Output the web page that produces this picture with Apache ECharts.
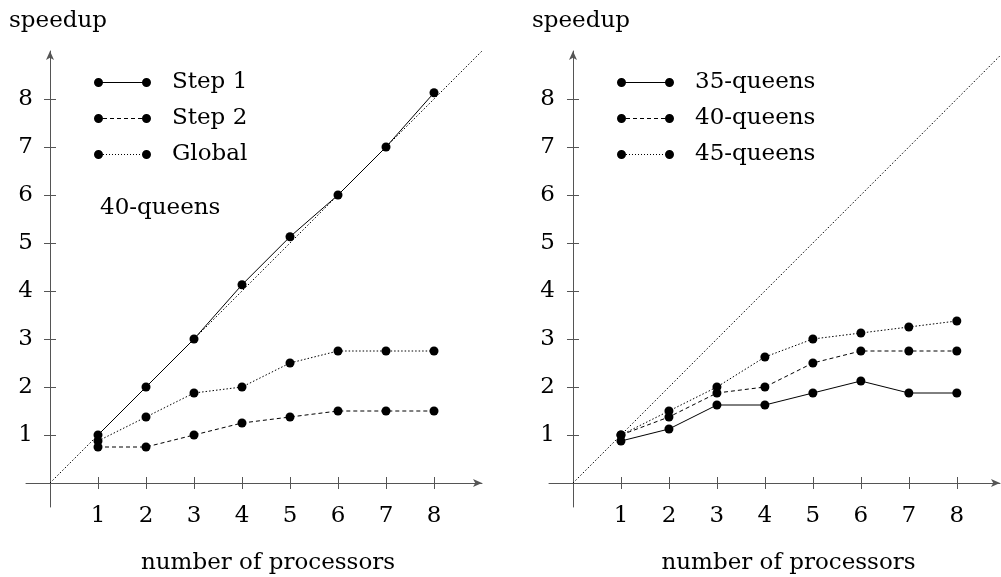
<!DOCTYPE html>
<html>
<head>
<meta charset="utf-8">
<script src="https://cdn.jsdelivr.net/npm/echarts@6/dist/echarts.min.js"></script>
<style>
  html, body { margin: 0; padding: 0; background: #fff; }
  #main { width: 1001px; height: 577px; }
</style>
</head>
<body>
<div id="main"></div>
<script>
// processors on the x axis
var procs = [1, 2, 3, 4, 5, 6, 7, 8];
var tickVals = [1, 2, 3, 4, 5, 6, 7, 8];

// left plot: 40-queens, by step
var step1 = [1, 2, 3, 4.13, 5.13, 6, 7, 8.13];
var step2 = [0.75, 0.75, 1, 1.25, 1.375, 1.5, 1.5, 1.5];
var global = [0.875, 1.375, 1.875, 2, 2.5, 2.75, 2.75, 2.75];

// right plot: by problem size
var q35 = [0.875, 1.125, 1.625, 1.625, 1.875, 2.125, 1.875, 1.875];
var q40 = [1, 1.375, 1.875, 2, 2.5, 2.75, 2.75, 2.75];
var q45 = [1, 1.5, 2, 2.625, 3, 3.125, 3.25, 3.375];

// ideal speedup y = x
var idealLeft = [[0, 0], [9, 9]];
var idealRight = [[0, 0], [8.9, 8.9]];

var FONT = '"DejaVu Serif", serif';
var AXIS_COLOR = '#555';
var DOTTED = [1.5, 2];
var DASHED = [4, 3];

var myChart = echarts.init(document.getElementById('main'));

function pairs(ys) {
    return procs.map(function (x, i) { return [x, ys[i]]; });
}

// legend icon: line between two dots
function legendIcon(kind) {
    var dot = function (cx) {
        return 'M' + (cx - 4.5) + ',4.5 A4.5,4.5 0 1,1 ' + (cx + 4.5) + ',4.5 A4.5,4.5 0 1,1 ' + (cx - 4.5) + ',4.5 Z ';
    };
    var p = dot(4.5) + dot(52.5);
    if (kind === 'solid') {
        p += 'M4.5,4 H52.5 V5 H4.5 Z';
    } else {
        var on = kind === 'dashed' ? 4 : 1;
        var off = kind === 'dashed' ? 3 : 2;
        for (var x = 9; x < 48; x += on + off) {
            var e = Math.min(x + on, 48);
            p += ' M' + x + ',4 H' + e + ' V5 H' + x + ' Z';
        }
    }
    return 'path://' + p;
}

// labels and name are laid out from the grid edge, not from the zero line
function mainX(grid, max, idx) {
    return {
        type: 'value', gridIndex: grid, position: 'bottom', min: -0.5, max: max,
        name: 'number of processors', nameLocation: 'middle', nameGap: 45,
        nameTextStyle: { fontFamily: FONT, fontSize: 23, color: '#000', padding: [0, 0, 0, 28] },
        splitLine: { show: false },
        axisLine: { onZero: true, onZeroAxisIndex: idx, symbol: ['none', 'arrow'], symbolSize: [6, 9],
            lineStyle: { color: AXIS_COLOR, width: 1 } },
        axisTick: { customValues: tickVals, inside: false, length: 6, lineStyle: { color: AXIS_COLOR } },
        axisLabel: { customValues: tickVals, margin: -2, fontFamily: FONT, fontSize: 23, color: '#000' }
    };
}

function innerX(grid, max, idx) {
    return {
        type: 'value', gridIndex: grid, position: 'bottom', min: -0.5, max: max,
        splitLine: { show: false },
        axisLine: { onZero: true, onZeroAxisIndex: idx, lineStyle: { color: 'rgba(0,0,0,0)' } },
        axisTick: { customValues: tickVals, inside: true, length: 6, lineStyle: { color: AXIS_COLOR } },
        axisLabel: { show: false }
    };
}

function mainY(grid, idx, labelMargin) {
    return {
        type: 'value', gridIndex: grid, position: 'left', min: -0.5, max: 9,
        name: 'speedup', nameLocation: 'end', nameGap: 18,
        nameTextStyle: { fontFamily: FONT, fontSize: 23, color: '#000', padding: [0, 0, 0, 16] },
        splitLine: { show: false },
        axisLine: { onZero: true, onZeroAxisIndex: idx, symbol: ['none', 'arrow'], symbolSize: [6, 9],
            lineStyle: { color: AXIS_COLOR, width: 1 } },
        axisTick: { customValues: tickVals, inside: false, length: 6, lineStyle: { color: AXIS_COLOR } },
        axisLabel: { customValues: tickVals, margin: labelMargin, fontFamily: FONT, fontSize: 23, color: '#000' }
    };
}

function innerY(grid, idx) {
    return {
        type: 'value', gridIndex: grid, position: 'left', min: -0.5, max: 9,
        splitLine: { show: false },
        axisLine: { onZero: true, onZeroAxisIndex: idx, lineStyle: { color: 'rgba(0,0,0,0)' } },
        axisTick: { customValues: tickVals, inside: true, length: 6, lineStyle: { color: AXIS_COLOR } },
        axisLabel: { show: false }
    };
}

function dataSeries(name, ys, dash, axis) {
    return {
        name: name, type: 'line', xAxisIndex: axis, yAxisIndex: axis,
        data: pairs(ys), symbol: 'circle', symbolSize: 9, showSymbol: true,
        itemStyle: { color: '#000', borderWidth: 0 },
        lineStyle: { color: '#000', width: 1, type: dash },
        z: 5
    };
}

function idealSeries(data, axis) {
    return {
        name: 'ideal', type: 'line', xAxisIndex: axis, yAxisIndex: axis,
        data: data, symbol: 'none',
        lineStyle: { color: '#000', width: 1, type: DOTTED },
        z: 3
    };
}

var legendText = { fontFamily: FONT, fontSize: 23, color: '#000', lineHeight: 23, padding: [0, 0, 0, 16] };
var legendItem = { color: '#000', borderColor: '#000', borderWidth: 0 };

var option = {
    animation: false,
    backgroundColor: '#fff',
    grid: [
        { left: 26, top: 51, width: 456, height: 456, containLabel: false, outerBoundsMode: 'none' },
        { left: 549, top: 51, width: 451, height: 456, containLabel: false, outerBoundsMode: 'none' }
    ],
    xAxis: [mainX(0, 9, 0), innerX(0, 9, 1), mainX(1, 8.9, 2), innerX(1, 8.9, 3)],
    yAxis: [mainY(0, 0, -7), innerY(0, 1), mainY(1, 2, -6), innerY(1, 3)],
    legend: [
        {
            left: 89, top: 66, orient: 'vertical', itemWidth: 57, itemHeight: 9, itemGap: 13,
            textStyle: legendText, itemStyle: legendItem,
            data: [
                { name: 'Step 1', icon: legendIcon('solid') },
                { name: 'Step 2', icon: legendIcon('dashed') },
                { name: 'Global', icon: legendIcon('dotted') }
            ]
        },
        {
            left: 612, top: 66, orient: 'vertical', itemWidth: 57, itemHeight: 9, itemGap: 13,
            textStyle: legendText, itemStyle: legendItem,
            data: [
                { name: '35-queens', icon: legendIcon('solid') },
                { name: '40-queens', icon: legendIcon('dashed') },
                { name: '45-queens', icon: legendIcon('dotted') }
            ]
        }
    ],
    graphic: [
        { type: 'text', left: 100, top: 197, style: { text: '40-queens', font: '23px ' + FONT, fill: '#000' } }
    ],
    series: [
        idealSeries(idealLeft, 0),
        dataSeries('Step 1', step1, 'solid', 0),
        dataSeries('Step 2', step2, DASHED, 0),
        dataSeries('Global', global, DOTTED, 0),
        idealSeries(idealRight, 2),
        dataSeries('35-queens', q35, 'solid', 2),
        dataSeries('40-queens', q40, DASHED, 2),
        dataSeries('45-queens', q45, DOTTED, 2)
    ]
};

myChart.setOption(option);
</script>
</body>
</html>
